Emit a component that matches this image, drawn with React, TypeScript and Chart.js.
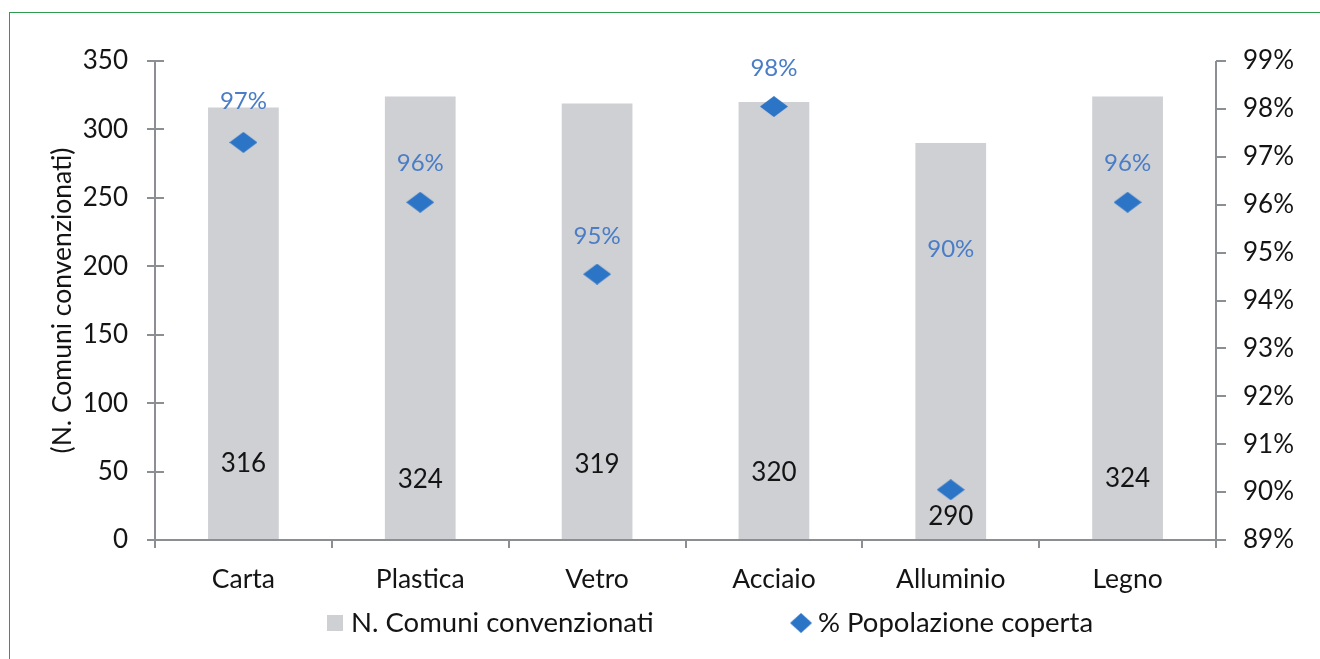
import React, { useEffect, useRef } from "react";
import { Chart, registerables } from "chart.js";

Chart.register(...registerables);

// ---------- data ----------
const categories = ["Carta", "Plastica", "Vetro", "Acciaio", "Alluminio", "Legno"];
const comuniConvenzionati = [316, 324, 319, 320, 290, 324];
const popolazioneCoperta = [97.3, 96.05, 94.55, 98.05, 90.05, 96.05];
const popolazioneLabels = ["97%", "96%", "95%", "98%", "90%", "96%"];
// where the data labels sit, in axis units (left axis / right axis)
const comuniLabelAt = [56, 44, 55, 49, 17, 45];
const popolazioneLabelAt = [98.15, 96.87, 95.35, 98.85, 95.08, 96.87];

const leftMin = 0;
const leftMax = 350;
const leftStep = 50;
const rightMin = 89;
const rightMax = 99;
const rightStep = 1;

const seriesNames = ["N. Comuni convenzionati", "% Popolazione coperta"];
const yTitle = "(N. Comuni convenzionati)";

// ---------- style ----------
const FONT = "Lato, 'Open Sans', 'DejaVu Sans', sans-serif";
const BAR_COLOR = "#cfd0d4";
const DIAMOND_COLOR = "#2b74c6";
const PCT_TEXT = "#4a7dc6";
const TEXT = "#141414";
const AXIS = "#8b8e93";

function makeDiamond(w: number, h: number, color: string) {
  const c = document.createElement("canvas");
  c.width = w;
  c.height = h;
  const ctx = c.getContext("2d")!;
  ctx.fillStyle = color;
  ctx.beginPath();
  ctx.moveTo(w / 2, 0);
  ctx.lineTo(w, h / 2);
  ctx.lineTo(w / 2, h);
  ctx.lineTo(0, h / 2);
  ctx.closePath();
  ctx.fill();
  return c;
}

export default function App() {
  const ref = useRef<HTMLCanvasElement | null>(null);

  useEffect(() => {
    if (!ref.current) return;
    const diamond = makeDiamond(28, 21, DIAMOND_COLOR);

    const decor = {
      id: "decor",
      afterDatasetsDraw(chart: any) {
        const ctx = chart.ctx;
        const x = chart.scales.x;
        const y = chart.scales.y;
        const y1 = chart.scales.y1;
        ctx.save();
        ctx.textAlign = "center";
        ctx.textBaseline = "middle";
        ctx.fillStyle = TEXT;
        ctx.font = `26px ${FONT}`;
        comuniConvenzionati.forEach((v, i) => {
          ctx.fillText(String(v), x.getPixelForValue(i), y.getPixelForValue(comuniLabelAt[i]));
        });
        ctx.fillStyle = PCT_TEXT;
        ctx.font = `24px ${FONT}`;
        popolazioneLabels.forEach((t, i) => {
          ctx.fillText(t, x.getPixelForValue(i), y1.getPixelForValue(popolazioneLabelAt[i]));
        });
        ctx.restore();
      },
      afterDraw(chart: any) {
        const ctx = chart.ctx;
        const ca = chart.chartArea;
        const x = chart.scales.x;
        const y = chart.scales.y;
        const y1 = chart.scales.y1;
        ctx.save();
        ctx.strokeStyle = AXIS;
        ctx.lineWidth = 2;
        // left axis
        ctx.beginPath();
        ctx.moveTo(ca.left, ca.top);
        ctx.lineTo(ca.left, ca.bottom + 8);
        for (let v = leftMin; v <= leftMax; v += leftStep) {
          const py = Math.round(y.getPixelForValue(v));
          ctx.moveTo(ca.left - 8, py);
          ctx.lineTo(ca.left + 9, py);
        }
        ctx.stroke();
        // right axis
        ctx.beginPath();
        ctx.moveTo(ca.right, ca.top);
        ctx.lineTo(ca.right, ca.bottom + 8);
        for (let v = rightMin; v <= rightMax; v += rightStep) {
          const py = Math.round(y1.getPixelForValue(v));
          ctx.moveTo(ca.right, py);
          ctx.lineTo(ca.right + 10, py);
        }
        ctx.stroke();
        // bottom axis
        ctx.beginPath();
        ctx.moveTo(ca.left, ca.bottom);
        ctx.lineTo(ca.right, ca.bottom);
        for (let i = 0; i < categories.length - 1; i++) {
          const px = Math.round((x.getPixelForValue(i) + x.getPixelForValue(i + 1)) / 2);
          ctx.moveTo(px, ca.bottom);
          ctx.lineTo(px, ca.bottom + 8);
        }
        ctx.stroke();

        // y title
        ctx.fillStyle = TEXT;
        ctx.font = `26.5px ${FONT}`;
        ctx.textAlign = "center";
        ctx.textBaseline = "middle";
        ctx.translate(62, (ca.top + ca.bottom) / 2);
        ctx.rotate(-Math.PI / 2);
        ctx.fillText(yTitle, 0, 0);
        ctx.setTransform(1, 0, 0, 1, 0, 0);

        // legend
        const ly = 623;
        ctx.fillStyle = BAR_COLOR;
        ctx.fillRect(327, ly - 8, 16, 16);
        ctx.fillStyle = TEXT;
        ctx.font = `27.5px ${FONT}`;
        ctx.textAlign = "left";
        ctx.fillText(seriesNames[0], 351, ly);
        ctx.drawImage(diamond, 790, ly - 10, 22, 20);
        ctx.fillStyle = TEXT;
        ctx.fillText(seriesNames[1], 818, ly);
        ctx.restore();
      },
    };

    const chart = new Chart(ref.current, {
      type: "bar",
      data: {
        labels: categories,
        datasets: [
          {
            type: "line",
            label: seriesNames[1],
            data: popolazioneCoperta,
            yAxisID: "y1",
            showLine: false,
            pointStyle: diamond as any,
            pointRadius: 12,
            order: 1,
          } as any,
          {
            type: "bar",
            label: seriesNames[0],
            data: comuniConvenzionati,
            yAxisID: "y",
            backgroundColor: BAR_COLOR,
            barPercentage: 0.4,
            categoryPercentage: 1,
            order: 2,
          },
        ],
      },
      options: {
        responsive: false,
        animation: false,
        layout: { padding: { top: 61, bottom: 0, left: 0, right: 0 } },
        plugins: {
          legend: { display: false },
          tooltip: { enabled: false },
        },
        scales: {
          x: {
            grid: { display: false, drawTicks: false },
            border: { display: false },
            ticks: {
              color: TEXT,
              font: { family: FONT, size: 26.5 },
              padding: 24,
            },
            afterFit(scale: any) {
              scale.height = 119;
            },
          },
          y: {
            position: "left",
            min: leftMin,
            max: leftMax,
            grid: { display: false, drawTicks: false },
            border: { display: false },
            ticks: {
              stepSize: leftStep,
              color: TEXT,
              font: { family: FONT, size: 26 },
              padding: 27,
            },
            afterFit(scale: any) {
              scale.width = 155;
            },
          },
          y1: {
            position: "right",
            min: rightMin,
            max: rightMax,
            grid: { display: false, drawTicks: false },
            border: { display: false },
            ticks: {
              stepSize: rightStep,
              color: TEXT,
              font: { family: FONT, size: 26 },
              padding: 27,
              callback: (v: any) => `${v}%`,
            },
            afterFit(scale: any) {
              scale.width = 104;
            },
          },
        },
      },
      plugins: [decor],
    });
    return () => chart.destroy();
  }, []);

  return (
    <div style={{ position: "fixed", left: 0, top: 0, width: 1320, height: 659, background: "#fff" }}>
      <canvas ref={ref} width={1320} height={659} style={{ width: 1320, height: 659, display: "block" }} />
      <div
        style={{
          position: "absolute",
          left: 9,
          top: 12,
          right: 0,
          bottom: 0,
          borderTop: "1.5px solid #2e9b4e",
          borderLeft: "1.5px solid #2e9b4e",
          pointerEvents: "none",
        }}
      />
    </div>
  );
}
